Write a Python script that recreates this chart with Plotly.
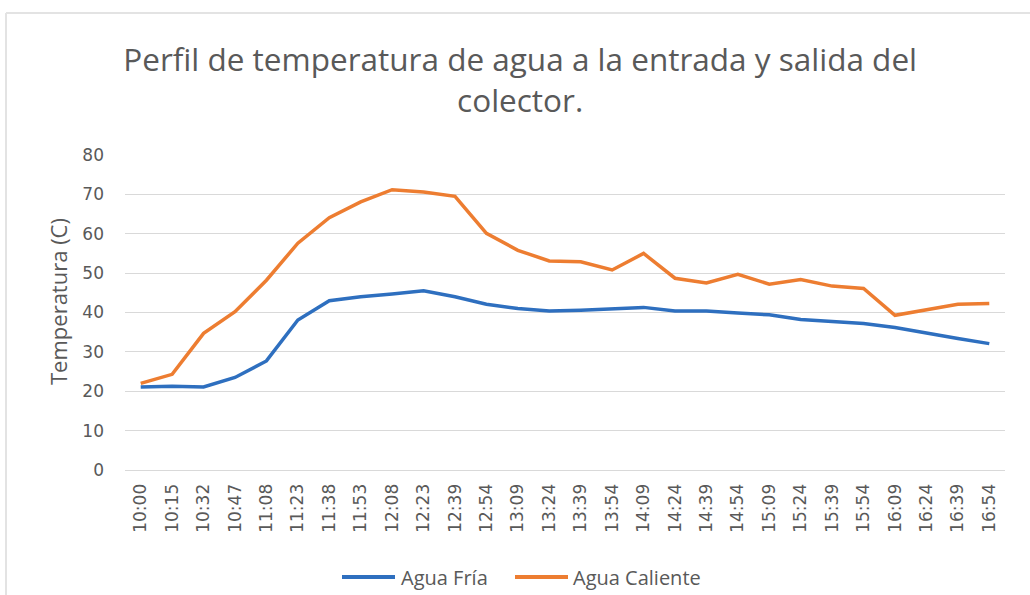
import plotly.graph_objects as go

horas = ["10:00", "10:15", "10:32", "10:47", "11:08", "11:23", "11:38", "11:53",
         "12:08", "12:23", "12:39", "12:54", "13:09", "13:24", "13:39", "13:54",
         "14:09", "14:24", "14:39", "14:54", "15:09", "15:24", "15:39", "15:54",
         "16:09", "16:24", "16:39", "16:54"]

agua_fria = [21.1, 21.3, 21.1, 23.5, 27.7, 38.1, 43.0, 44.0,
             44.7, 45.5, 44.0, 42.1, 41.0, 40.4, 40.6, 41.0,
             41.3, 40.4, 40.4, 39.9, 39.4, 38.2, 37.6, 37.2,
             36.2, 34.7, 33.4, 32.1]

agua_caliente = [22.0, 24.3, 34.7, 40.2, 48.2, 57.6, 64.1, 68.1,
                 71.2, 70.6, 69.5, 60.1, 55.8, 53.1, 52.9, 50.8,
                 55.0, 48.7, 47.5, 49.7, 47.2, 48.4, 46.7, 46.1,
                 39.3, 40.6, 42.1, 42.3]

y_ticks = [0, 10, 20, 30, 40, 50, 60, 70, 80]

series_names = ["Agua Fría", "Agua Caliente"]
series_colors = ["#2E6FBF", "#ED7D31"]

FONT = "Open Sans"
TICKFONT = "DejaVu Sans"
TXT = "#595959"

fig = go.Figure()
for name, vals, col in zip(series_names, [agua_fria, agua_caliente], series_colors):
    fig.add_trace(go.Scatter(x=horas, y=vals, mode="lines", name=name,
                             line=dict(color=col, width=3.5), showlegend=False))

L, R, T, B = 125, 25, 155, 125
W, H = 1030, 595
pw, ph = W - L - R, H - T - B

def px2x(px):
    return (px - L) / pw

def py2y(py):
    return (H - B - py) / ph

fig.update_layout(
    width=W, height=H,
    margin=dict(l=L, r=R, t=T, b=B),
    paper_bgcolor="white", plot_bgcolor="white",
    font=dict(family=FONT, color=TXT),
    title=dict(text="Perfil de temperatura de agua a la entrada y salida del<br>colector.",
               x=0.505, xanchor="center", xref="container",
               y=1 - 71 / H, yanchor="middle", yref="container",
               font=dict(size=31.5, color=TXT, family=FONT)),
    showlegend=False,
    xaxis=dict(type="category", tickangle=-90, showgrid=False,
               showline=True, linecolor="#d9d9d9", linewidth=1,
               ticks="", tickfont=dict(size=17, color=TXT, family=TICKFONT),
               ticklabelstandoff=6,
               range=[-0.5, len(horas) - 0.5], fixedrange=True),
    yaxis=dict(range=[0, 80], tickvals=y_ticks, showgrid=True, gridcolor="#d9d9d9",
               gridwidth=1, zeroline=False, showline=False, ticks="",
               tickfont=dict(size=17, color=TXT, family=TICKFONT), ticklabelstandoff=20),
)

# y-axis title
fig.add_annotation(text="Temperatura (C)", textangle=-90, showarrow=False,
                   xref="paper", yref="paper", x=px2x(58), y=py2y(302),
                   xanchor="center", yanchor="middle",
                   font=dict(size=22, color=TXT, family=FONT))

# legend (line swatch + label), as in the reference
legend_items = [(342, 395, 399), (515, 568, 571)]
for (x0, x1, tx), name, col in zip(legend_items, series_names, series_colors):
    fig.add_shape(type="line", xref="paper", yref="paper",
                  x0=px2x(x0), x1=px2x(x1), y0=py2y(577), y1=py2y(577),
                  line=dict(color=col, width=4))
    fig.add_annotation(text=name, showarrow=False, xref="paper", yref="paper",
                       x=px2x(tx), y=py2y(577), xanchor="left", yanchor="middle",
                       font=dict(size=20, color=TXT, family=FONT))

# light gray chart frame
fig.add_shape(type="line", xref="paper", yref="paper",
              x0=px2x(6), x1=px2x(1030), y0=py2y(13), y1=py2y(13),
              line=dict(color="#e3e3e3", width=2))
fig.add_shape(type="line", xref="paper", yref="paper",
              x0=px2x(6), x1=px2x(6), y0=py2y(13), y1=py2y(595),
              line=dict(color="#e3e3e3", width=2))

fig.write_html("out.html", config={"displayModeBar": False},
               post_script="document.body.style.margin='0';document.body.style.overflow='hidden';")
